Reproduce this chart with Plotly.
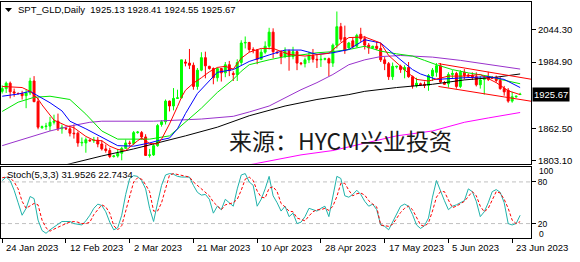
import plotly.graph_objects as go

# ---------------- data ----------------
date_ticks = [0, 16, 32, 48, 64, 80, 96, 112, 128]
date_labels = ["24 Jan 2023", "12 Feb 2023", "2 Mar 2023", "21 Mar 2023", "10 Apr 2023",
               "28 Apr 2023", "17 May 2023", "5 Jun 2023", "23 Jun 2023"]

opens = [1931,1936,1946,1930,1927,1927,1923,1928,1950,1912,
         1864,1866,1867,1874,1876,1862,1863,1862,1854,1854,
         1836,1836,1841,1840,1841,1834,1825,1822,1811,1812,
         1817,1826,1836,1835,1855,1855,1847,1813,1814,1831,
         1870,1875,1913,1904,1918,1919,1985,1983,1979,1940,
         1970,1993,1977,1973,1956,1973,1965,1980,1964,1962,
         1984,2020,2021,2008,2007,1990,2003,2014,2040,2003,
         2002,1995,2005,1995,2004,1983,1982,1989,1997,1990,
         1989,1990,1991,1983,2016,2050,2030,2011,2024,2014,
         2036,2028,2016,2011,2014,2010,1989,1982,1958,1976,
         1977,1971,1975,1958,1941,1945,1944,1942,1959,1966,
         1978,1947,1945,1962,1964,1940,1966,1961,1960,1958,
         1943,1953,1958,1957,1957,1951,1936,1933,1913,1921,
         1925.13]
highs = [1942,1949,1949,1936,1929,1932,1934,1956,1959,1919,
         1868,1873,1884,1888,1890,1870,1866,1868,1870,1857,
         1846,1846,1843,1847,1847,1841,1833,1827,1814,1825,
         1829,1842,1840,1858,1858,1858,1852,1825,1834,1871,
         1878,1916,1914,1937,1934,1989,1990,2009,1984,1974,
         2003,2004,1978,1975,1975,1974,1985,1987,1968,1990,
         2025,2032,2022,2012,2009,2009,2023,2048,2047,2006,
         2007,2012,2008,2013,2006,1985,1993,2004,2009,2000,
         1998,1993,1993,2019,2078,2057,2052,2022,2030,2037,
         2048,2033,2020,2015,2022,2020,1994,1985,1984,1978,
         1980,1979,1985,1960,1956,1947,1949,1963,1974,1983,
         1983,1950,1966,1970,1967,1970,1972,1964,1966,1966,
         1959,1959,1967,1959,1960,1957,1941,1937,1930,1923,
         1928.41]
lows = [1927,1928,1918,1921,1925,1916,1900,1924,1911,1861,
        1862,1860,1858,1870,1858,1853,1860,1848,1844,1829,
        1830,1818,1838,1836,1828,1822,1818,1808,1809,1809,
        1804,1825,1830,1832,1853,1842,1812,1809,1812,1829,
        1866,1870,1894,1896,1917,1918,1977,1972,1934,1934,
        1968,1955,1971,1944,1949,1949,1957,1959,1950,1950,
        1979,2010,2003,2001,1981,1989,2000,2008,1992,2000,
        1981,1992,1969,1990,1970,1979,1975,1983,1984,1974,
        1976,1988,1959,1976,2010,2022,2000,2009,2010,2012,
        2022,2008,2000,2009,2007,1985,1970,1952,1952,1973,
        1965,1955,1956,1936,1938,1941,1937,1932,1950,1958,
        1946,1943,1938,1954,1936,1937,1953,1958,1952,1940,
        1936,1925,1950,1954,1947,1934,1923,1910,1910,1919,
        1924.55]
closes = [1936,1946,1930,1928,1927,1923,1928,1950,1912,1865,
          1866,1867,1874,1876,1862,1865,1862,1854,1853,1836,
          1837,1842,1840,1841,1834,1825,1822,1811,1812,1817,
          1826,1836,1835,1855,1856,1847,1813,1814,1831,1868,
          1875,1913,1904,1918,1919,1989,1983,1979,1940,1970,
          1993,1978,1973,1956,1973,1965,1980,1969,1962,1984,
          2020,2021,2008,2007,1990,2003,2014,2040,2004,2002,
          1995,2005,1995,2004,1983,1982,1989,1997,1990,1989,
          1990,1991,1983,2016,2050,2027,2006,2020,2013,2034,
          2028,2016,2011,2014,2010,1989,1982,1958,1977,1977,
          1971,1975,1958,1941,1946,1943,1942,1960,1970,1978,
          1948,1944,1962,1964,1940,1966,1960,1959,1957,1943,
          1952,1956,1953,1955,1951,1936,1930,1913,1921,1922,
          1925.67]

# moving averages (bar index, price)
red_idx = [0,5,7,9,10,12,13,16,18,21,23,25,27,29,31,34,35,37,39,40,42,44,45,46,48,50,52,54,56,58,
           60,62,65,68,70,72,76,79,82,85,87,91,95,97,99,102,104,107,112,116,120,124,127,130]
red_val = [1940,1938,1931,1917,1906,1887,1878,1868,1864,1848,1841,1840,1830,1824,1822,1840,1845,1835,1834,1843,
           1871,1903,1920,1933,1946,1956,1967,1975,1977,1972,1992,2003,2010,2010,2005,1999,1996,1999,2001,2020,
           2030,2031,2020,1997,1984,1964,1953,1950,1959,1959,1962,1947,1932,1925]
blue_idx = [0,4,7,10,12,15,17,21,25,29,33,37,40,42,44,46,49,51,54,58,62,67,71,75,79,83,87,91,95,99,
            103,105,109,116,122,126,130]
blue_val = [1922,1926,1931,1919,1910,1895,1876,1862,1846,1831,1830,1836,1842,1845,1862,1890,1927,1942,1966,1971,
            1986,1998,2007,2007,1999,2002,2008,2026,2020,1995,1971,1963,1953,1956,1958,1953,1938]
green_idx = [0,4,8,12,17,21,25,29,33,37,42,46,50,54,58,60,62,67,71,75,79,83,87,91,95,99,103,106,109,113,
             117,122,125,130]
green_val = [1894,1911,1920,1922,1916,1889,1858,1843,1843,1843,1849,1874,1900,1929,1953,1968,1980,1989,1995,1998,
             2002,2004,2008,2014,2005,2000,1996,1988,1980,1971,1965,1959,1953,1945]
purple_idx = [0,4,8,12,17,22,25,38,50,58,62,67,75,79,83,87,91,95,100,108,115,122,130]
purple_val = [1831,1840,1849,1858,1867,1874,1876,1876,1880,1885,1893,1904,1934,1947,1962,1980,1989,1995,1997,1994,
              1988,1980,1972]
black_idx = [10,17,21,25,33,38,46,54,62,71,79,87,91,99,108,116,124,130]
black_val = [1785,1798,1805,1812,1825,1834,1849,1865,1886,1904,1916,1925,1931,1938,1944,1952,1957,1963]
magenta_idx = [58,65,75,83,88,99,108,116,122,130]
magenta_val = [1790,1800,1814,1822,1830,1849,1858,1874,1882,1892]

channel_idx = [109.5, 133]
channel_upper = [1982, 1953]
channel_lower = [1940, 1912.5]

stoch_k = [82,87,82,68,50,32,42,59,56,25, 10,6,11,15,19,23,23,23,20,19,
           18,24,32,42,48,46,37,22,11,14, 32,62,85,89,88,82,70,42,23,50,
           75,90,92,91,88,87,87,87,75,65, 61,
           62,55,35,45,40,55,50,45,70,90, 92,80,75,45,55,70,88,60,50,38,
           45,30,35,20,22,30,42,40,38,42, 45,30,60,88,85,60,58,62,68,62,
           52,45,48,40,
           18,16,11,23,33,45,48,45,33,18, 13,17,28,58,82,66,53,40,45,47,
           50,53,70,66,52,30,37,50,66,69, 65,50,20,18,20,31.95]
stoch_d = [86,87,86,80,70,52,42,45,49,47, 25,14,9,12,15,18,20,22,23,22,
           20,20,22,33,40,47,44,35,17,11, 17,38,61,80,86,84,76,66,38,38,
           50,70,90,92,91,90,88,87,80,75, 70,
           66,60,51,45,40,47,48,50,55,68, 84,87,82,67,58,57,71,73,66,49,
           44,38,37,28,26,24,31,37,40,40, 42,39,45,59,78,78,68,60,63,64,
           61,53,48,44,
           18,17,16,19,28,36,42,45,40,30, 18,16,21,38,58,66,66,54,43,45,
           48,52,59,66,60,45,37,42,54,66, 64,55,42,25,20,22.74]

price_ticks = [2044.30, 1984.90, 1862.50, 1803.10]
last_price = 1925.67

# ---------------- figure ----------------
W, H = 580, 262
FONT = "Liberation Sans"
bars = list(range(len(closes)))

def px_x(p):
    return p / W

def px_y(p):
    return 1 - p / H

fig = go.Figure()
fig.add_trace(go.Candlestick(
    x=bars, open=opens, high=highs, low=lows, close=closes,
    increasing=dict(line=dict(color="#00FF00", width=1), fillcolor="#00FF00"),
    decreasing=dict(line=dict(color="#FF0000", width=1), fillcolor="#FF0000"),
    whiskerwidth=0, xaxis="x", yaxis="y", hoverinfo="skip", showlegend=False))

for xs, ys, col in [(magenta_idx, magenta_val, "#FF00FF"),
                    (black_idx, black_val, "#000000"),
                    (purple_idx, purple_val, "#9932CC"),
                    (green_idx, green_val, "#00E600"),
                    (blue_idx, blue_val, "#0000FF"),
                    (red_idx, red_val, "#FF0000"),
                    (channel_idx, channel_upper, "#FF0000"),
                    (channel_idx, channel_lower, "#FF0000")]:
    fig.add_trace(go.Scatter(x=xs, y=ys, mode="lines", line=dict(color=col, width=1),
                             xaxis="x", yaxis="y", hoverinfo="skip", showlegend=False))

fig.add_trace(go.Scatter(x=bars, y=stoch_k, mode="lines", line=dict(color="#20B2AA", width=1),
                         xaxis="x2", yaxis="y2", hoverinfo="skip", showlegend=False))
fig.add_trace(go.Scatter(x=bars, y=stoch_d, mode="lines", line=dict(color="#FF0000", width=1, dash="3px,2px"),
                         xaxis="x2", yaxis="y2", hoverinfo="skip", showlegend=False))

xdom = [0, 531 / W]
axis_common = dict(showgrid=False, zeroline=False, showline=True, mirror=True,
                   linecolor="black", linewidth=1)
fig.update_layout(
    width=W, height=H, margin=dict(l=0, r=0, t=0, b=0),
    paper_bgcolor="white", plot_bgcolor="white",
    font=dict(family=FONT, size=9.5, color="black"),
    xaxis=dict(domain=xdom, range=[-0.3, 132.75], showticklabels=False, ticks="",
               rangeslider=dict(visible=False), anchor="y", **axis_common),
    yaxis=dict(domain=[px_y(165), px_y(2)], range=[1797.7, 2095.5], side="right", anchor="x",
               tickvals=price_ticks, ticktext=[f"{v:.2f}" for v in price_ticks],
               ticks="outside", ticklen=4, tickcolor="black", **axis_common),
    xaxis2=dict(domain=xdom, matches="x", anchor="y2", tickvals=date_ticks, showticklabels=False,
                ticks="outside", ticklen=4, tickcolor="black", **axis_common),
    yaxis2=dict(domain=[px_y(239.5), px_y(168)], range=[-0.3, 101.9], side="right", anchor="x2",
                tickvals=[80, 20], ticktext=["80", "20"], ticks="outside", ticklen=4,
                tickfont=dict(size=8.5), tickcolor="black", **axis_common),
)

shapes = []
for lvl in [80, 20]:
    shapes.append(dict(type="line", xref="x2 domain", yref="y2", x0=0, x1=1, y0=lvl, y1=lvl,
                       line=dict(color="#C0C0C0", width=1, dash="4px,3px"), layer="below"))
# small header triangle
shapes.append(dict(type="path", xref="paper", yref="paper",
                   path=f"M {px_x(4)},{px_y(8)} L {px_x(11)},{px_y(8)} L {px_x(7.5)},{px_y(12)} Z",
                   fillcolor="black", line=dict(width=0)))
fig.update_layout(shapes=shapes)

ann = []
ann.append(dict(xref="paper", yref="paper", x=px_x(15), y=px_y(10), xanchor="left", yanchor="middle",
                text="SPT_GLD,Daily  1925.13 1928.41 1924.55 1925.67", showarrow=False,
                font=dict(family=FONT, size=9.5, color="black")))
ann.append(dict(xref="paper", yref="paper", x=px_x(4), y=px_y(176), xanchor="left", yanchor="middle",
                text="Stoch(5,3,3) 31.9526 22.7434", showarrow=False,
                font=dict(family=FONT, size=9.5, color="black")))
ann.append(dict(xref="paper", yref="paper", x=px_x(340), y=px_y(141), xanchor="center", yanchor="middle",
                text="来源：HYCM兴业投资", showarrow=False,
                font=dict(family="Noto Sans CJK SC", size=23, color="#1a1a1a")))
for t, lab in zip(date_ticks, date_labels):
    ann.append(dict(xref="x2", yref="paper", x=t, y=px_y(249), xanchor="left", yanchor="middle",
                    xshift=2, text=lab, showarrow=False, font=dict(family=FONT, size=9.5, color="black")))
ann.append(dict(xref="paper", yref="y", x=px_x(532), y=last_price, xanchor="left", yanchor="middle",
                text=f"{last_price:.2f}", showarrow=False, bgcolor="black", borderpad=1,
                font=dict(family=FONT, size=9.5, color="white")))
ann.append(dict(xref="paper", yref="paper", x=px_x(537), y=px_y(172.5), xanchor="left", yanchor="middle",
                text="100", showarrow=False, font=dict(family=FONT, size=8.5, color="black")))
ann.append(dict(xref="paper", yref="paper", x=px_x(537), y=px_y(235.5), xanchor="left", yanchor="middle",
                text="0", showarrow=False, font=dict(family=FONT, size=8.5, color="black")))
fig.update_layout(annotations=ann)

fig.write_html("out.html")
